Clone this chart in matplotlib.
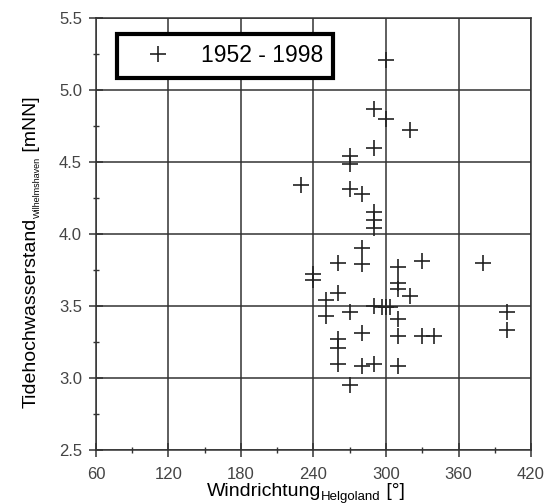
import matplotlib.pyplot as plt
from matplotlib.ticker import MultipleLocator
from matplotlib.transforms import IdentityTransform

plt.rcParams['font.family'] = ['Liberation Sans', 'DejaVu Sans']

# Windrichtung Helgoland [grad] und Tidehochwasserstand Wilhelmshaven [mNN]
richtung = [300, 290, 300, 320, 290, 270, 270, 230, 270, 280, 290, 290, 290,
            280, 260, 280, 310, 330, 240, 240, 310, 310, 320, 260, 250, 250,
            270, 290, 297, 300, 303, 310, 310, 280, 260, 260, 260, 280, 290,
            310, 270, 380, 330, 340, 400, 400]
wasserstand = [5.21, 4.87, 4.80, 4.72, 4.60, 4.54, 4.49, 4.34, 4.31, 4.28, 4.15, 4.10, 4.04,
               3.90, 3.80, 3.79, 3.77, 3.81, 3.72, 3.68, 3.66, 3.62, 3.57, 3.59, 3.54, 3.43,
               3.46, 3.50, 3.49, 3.49, 3.49, 3.41, 3.29, 3.31, 3.27, 3.21, 3.10, 3.08, 3.10,
               3.08, 2.95, 3.80, 3.29, 3.29, 3.46, 3.33]
legende = "1952 - 1998"

fig = plt.figure(figsize=(5.5, 5.03), dpi=100)
ax = fig.add_axes([0.1745, 0.1054, 0.791, 0.8586])

ax.plot(richtung, wasserstand, '+', color='#222222', markersize=11, markeredgewidth=1.2,
        label=legende)

ax.set_xlim(60, 420)
ax.set_ylim(2.5, 5.5)
ax.xaxis.set_major_locator(MultipleLocator(60))
ax.xaxis.set_minor_locator(MultipleLocator(30))
ax.yaxis.set_major_locator(MultipleLocator(0.5))
ax.yaxis.set_minor_locator(MultipleLocator(0.25))
ax.yaxis.set_major_formatter(plt.FormatStrFormatter('%.1f'))
ax.grid(True, which='major', color='#333333', linewidth=1.1)
ax.set_axisbelow(True)
for s in ax.spines.values():
    s.set_color('#333333')
    s.set_linewidth(1.1)
ax.tick_params(which='major', direction='inout', length=10, width=1.1, color='#333333',
               labelsize=12, labelcolor='#444444')
ax.tick_params(axis='y', which='major', pad=5)
ax.tick_params(axis='x', which='major', pad=7)
ax.tick_params(which='minor', direction='inout', length=5, width=1.0, color='#333333')

leg = ax.legend(loc='upper left', bbox_to_anchor=(0.048, 0.963), borderaxespad=0,
                fontsize=16.5, fancybox=False, framealpha=1, edgecolor='black',
                handlelength=2.7, handletextpad=0.5, borderpad=0.45)
leg.get_frame().set_linewidth(3)

# Achsentitel mit Index stueckweise setzen (Pixelkoordinaten, Ursprung unten links)
fig.canvas.draw()
r = fig.canvas.get_renderer()

def stuecke(teile, x, y, senkrecht=False):
    pos = 0
    for txt, gr, versatz in teile:
        if senkrecht:
            t = fig.text(x + versatz, y + pos, txt, fontsize=gr, rotation=90,
                         rotation_mode='anchor', ha='left', va='baseline',
                         transform=IdentityTransform())
            pos += t.get_window_extent(r).height
        else:
            t = fig.text(x + pos, y - versatz, txt, fontsize=gr,
                         ha='left', va='baseline', transform=IdentityTransform())
            pos += t.get_window_extent(r).width

stuecke([('Windrichtung', 14, 0), ('Helgoland', 9.5, 4), (' [°]', 14, 0)], 207, 7)
stuecke([('Tidehochwasserstand', 14, 0), ('Wilhelmshaven', 6.5, 4), (' [mNN]', 14, 0)],
        36, 95, senkrecht=True)

fig.savefig('out.png', dpi=100)
